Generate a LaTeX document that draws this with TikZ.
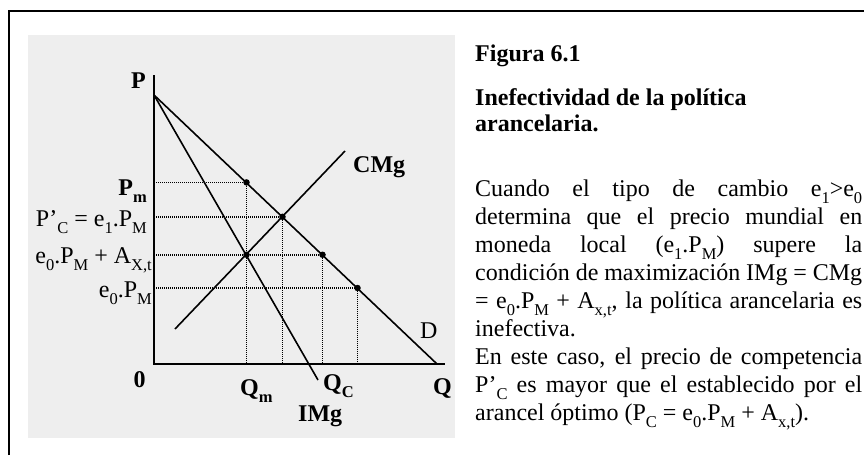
\documentclass[tikz,border=0pt]{standalone}
\usepackage{fontspec}
\setmainfont{Liberation Serif}
\definecolor{panel}{RGB}{238,238,238}
\newcommand{\sbs}[1]{\raisebox{-0.3em}{\fontsize{16.5}{16.5}\selectfont #1}}
\begin{document}
\begin{tikzpicture}[x=1pt,y=-1pt,
  curve/.style={line width=1.6pt},
  axisln/.style={line width=1.8pt},
  guide/.style={line width=1.6pt, dash pattern=on 1pt off 1pt},
  dotpt/.style={circle,fill,inner sep=0pt,minimum size=6.5pt},
  lab/.style={inner sep=0pt, font=\fontsize{24}{28}\selectfont},
  blab/.style={inner sep=0pt, font=\fontsize{24}{28}\selectfont\bfseries},
  body/.style={inner sep=0pt, anchor=base west, font=\fontsize{24}{28}\selectfont},
  btitle/.style={inner sep=0pt, anchor=base west, font=\fontsize{24}{28}\selectfont\bfseries}]
\useasboundingbox (0,0) rectangle (864,455);
\fill[white] (0,0) rectangle (864,455);
\draw[line width=2pt] (9,455) -- (9,11) -- (864,11);
\fill[panel] (28,35) rectangle (455,438);
% key coordinates
\coordinate (O) at (154,364);
\coordinate (Ptop) at (154,75);
\coordinate (Qend) at (445,364);
\coordinate (Dtop) at (154,95);
\coordinate (Dend) at (437,364);
\coordinate (Iend) at (318,380);
\coordinate (Cs) at (175,329);
\coordinate (Ce) at (345,151);
% points
\coordinate (pm) at (246.5,182.4);
\coordinate (pc) at (282.5,216.8);
\coordinate (pa) at (246.5,254.75);
\coordinate (pd) at (322.5,254.75);
\coordinate (pe) at (357.5,288);
% axis feet
\coordinate (apm) at (154,182.4);
\coordinate (apc) at (154,216.8);
\coordinate (apa) at (154,254.75);
\coordinate (ape) at (154,288);
\coordinate (bpm) at (246.5,364);
\coordinate (bpc) at (282.5,364);
\coordinate (bpd) at (322.5,364);
\coordinate (bpe) at (357.5,364);
% guides
\draw[guide] (apm) -- (pm) -- (bpm);
\draw[guide] (apc) -- (pc) -- (bpc);
\draw[guide] (apa) -- (pd) -- (bpd);
\draw[guide] (ape) -- (pe) -- (bpe);
% axes
\draw[axisln] (Ptop) -- (O) -- (Qend);
% curves
\draw[curve] (Dtop) -- (Dend);
\draw[curve] (Dtop) -- (Iend);
\draw[curve] (Cs) -- (Ce);
% dots
\foreach \p in {pm,pc,pa,pd,pe} \node[dotpt] (d\p) at (\p) {};
% labels
\node[blab, anchor=base] (lP) at (138.5,88) {P};
\node[blab, anchor=base east] (lPm) at (147,195) {P\sbs{m}};
\node[lab, anchor=base east] (lPc) at (147,226) {P’\sbs{C} = e\sbs{1}.P\sbs{M}};
\node[lab, anchor=base east] (lPa) at (152,263) {e\sbs{0}.P\sbs{M} + A\sbs{X,t}};
\node[lab, anchor=base east] (lPe) at (152,297) {e\sbs{0}.P\sbs{M}};
\node[blab, anchor=base west] (lC) at (353,172) {CMg};
\node[lab, anchor=base west] (lD) at (420,338) {D};
\node[blab, anchor=base] (l0) at (139.5,387) {0};
\node[blab, anchor=base west] (lQm) at (240,395) {Q\sbs{m}};
\node[blab, anchor=base west] (lQc) at (323,390) {Q\sbs{C}};
\node[blab, anchor=base west] (lQ) at (433,394) {Q};
\node[blab, anchor=base west] (lI) at (298,421) {IMg};
% right text
\node[btitle] (t1) at (475,61) {Figura 6.1};
\node[btitle] (t2) at (475,105) {Inefectividad de la política};
\node[btitle] (t3) at (475,131) {arancelaria.};
\node[body] (b1) at (475,196) {\makebox[387pt][s]{Cuando el tipo de cambio e\sbs{1}>e\sbs{0}}};
\node[body] (b2) at (475,224) {\makebox[387pt][s]{determina que el precio mundial en}};
\node[body] (b3) at (475,252) {\makebox[387pt][s]{moneda local (e\sbs{1}.P\sbs{M}) supere la}};
\node[body] (b4) at (475,280) {\makebox[387pt][s]{condición de maximización IMg = CMg}};
\node[body] (b5) at (475,308) {\makebox[387pt][s]{= e\sbs{0}.P\sbs{M} + A\sbs{x,t}, la política arancelaria es}};
\node[body] (b6) at (475,336) {inefectiva.};
\node[body] (b7) at (475,364) {\makebox[387pt][s]{En este caso, el precio de competencia}};
\node[body] (b8) at (475,392) {\makebox[387pt][s]{P’\sbs{C} es mayor que el establecido por el}};
\node[body] (b9) at (475,420) {arancel óptimo (P\sbs{C} = e\sbs{0}.P\sbs{M} + A\sbs{x,t}).};
\end{tikzpicture}
\end{document}
